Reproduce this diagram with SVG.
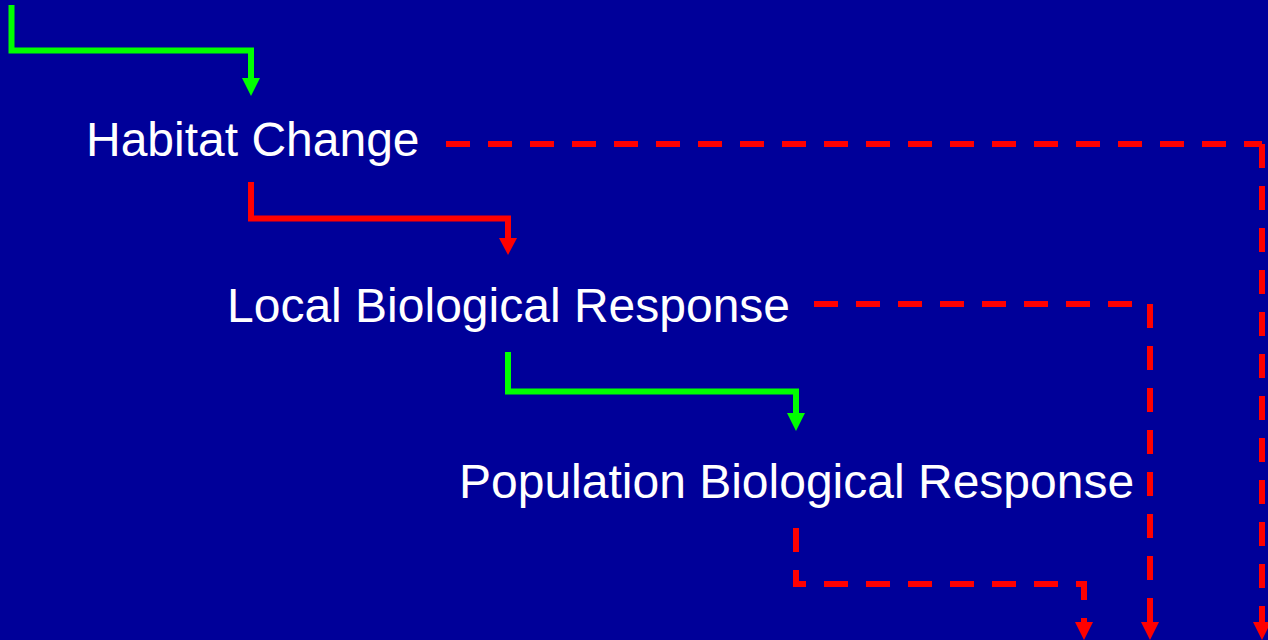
<svg xmlns="http://www.w3.org/2000/svg" width="1268" height="640" viewBox="0 0 1268 640">
  <style>
    .lbl { font-family: "Liberation Sans", Arial, sans-serif; font-size: 48px; fill: #FFFFFF; }
    .g { fill: none; stroke: #00FF00; stroke-width: 6; stroke-linejoin: miter; stroke-linecap: butt; }
    .r { fill: none; stroke: #FF0000; stroke-width: 6; stroke-linejoin: miter; stroke-linecap: butt; }
    .rd { fill: none; stroke: #FF0000; stroke-width: 6; stroke-dasharray: 24 18; stroke-linejoin: miter; stroke-linecap: butt; }
    .gh { fill: #00FF00; }
    .rh { fill: #FF0000; }
  </style>
  <rect x="0" y="0" width="1268" height="640" fill="#000099"/>
  <g id="connectors">
    <polyline class="g" points="11.5,5 11.5,50.5 251,50.5 251,78"/>
    <polygon class="gh" points="242,78 260,78 251,96"/>
    <polyline class="r" points="251,182 251,218.5 508,218.5 508,238"/>
    <polygon class="rh" points="499,238 517,238 508,255"/>
    <polyline class="g" points="508,352 508,391.5 796,391.5 796,413"/>
    <polygon class="gh" points="787,413 805,413 796,431"/>
    <polyline class="rd" points="446,144 1262,144"/>
    <polyline class="rd" points="1262,144 1262,622"/>
    <polygon class="rh" points="1253,622 1271,622 1262,640"/>
    <polyline class="rd" points="814,304 1150,304 1150,622"/>
    <polygon class="rh" points="1141,622 1159,622 1150,640"/>
    <polyline class="rd" points="796,528 796,584 1084,584 1084,622"/>
    <polygon class="rh" points="1075,622 1093,622 1084,640"/>
  </g>
  <g id="habitat-change">
    <text class="lbl" x="86" y="156">Habitat Change</text>
  </g>
  <g id="local-biological-response">
    <text class="lbl" x="227" y="322">Local Biological Response</text>
  </g>
  <g id="population-biological-response">
    <text class="lbl" x="459" y="498">Population Biological Response</text>
  </g>
</svg>
